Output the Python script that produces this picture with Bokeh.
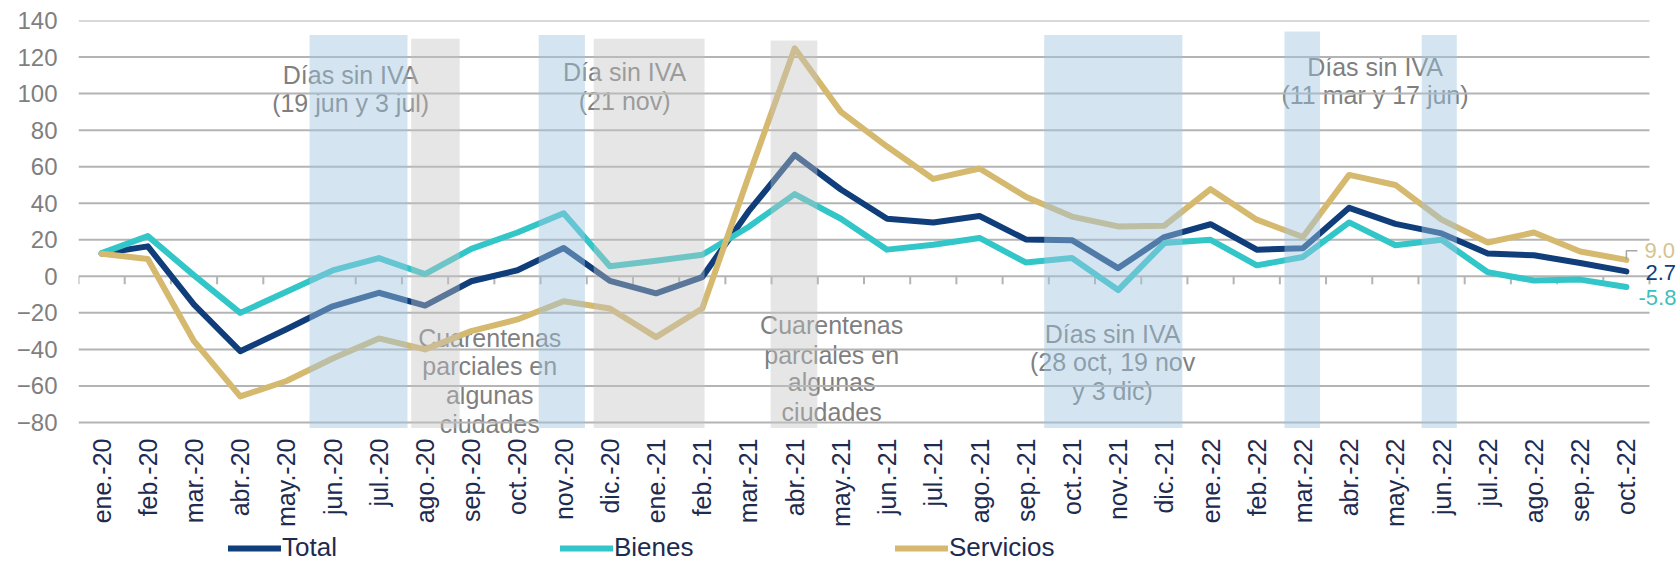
import math
from bokeh.plotting import figure
from bokeh.models import Range1d, FixedTicker, Label, BoxAnnotation, Legend, LegendItem
from bokeh.core.properties import value
from bokeh.embed import file_html
from bokeh.resources import INLINE

# ---------------- data ----------------
months = ["ene.-20", "feb.-20", "mar.-20", "abr.-20", "may.-20", "jun.-20", "jul.-20", "ago.-20",
          "sep.-20", "oct.-20", "nov.-20", "dic.-20", "ene.-21", "feb.-21", "mar.-21", "abr.-21",
          "may.-21", "jun.-21", "jul.-21", "ago.-21", "sep.-21", "oct.-21", "nov.-21", "dic.-21",
          "ene.-22", "feb.-22", "mar.-22", "abr.-22", "may.-22", "jun.-22", "jul.-22", "ago.-22",
          "sep.-22", "oct.-22"]

total = [12.5, 16.4, -15.5, -41.0, -29.0, -16.4, -9.0, -16.0, -2.7, 3.3, 15.5, -2.5, -9.3, -0.4,
         35.5, 66.5, 47.5, 31.5, 29.5, 33.0, 20.2, 19.8, 4.5, 21.5, 28.5, 14.6, 15.3, 37.5, 28.7,
         23.5, 12.5, 11.5, 7.3, 2.7]

bienes = [12.7, 22.0, 0.5, -20.0, -8.5, 3.2, 10.0, 1.2, 15.0, 24.0, 34.5, 5.5, 8.5, 11.8,
          27.0, 45.0, 31.5, 14.6, 17.3, 21.0, 7.6, 10.0, -7.5, 18.2, 20.0, 6.0, 10.6, 29.5, 17.0,
          20.0, 2.2, -2.3, -1.8, -5.8]

servicios = [12.3, 9.5, -35.5, -65.7, -57.3, -45.0, -34.0, -40.0, -30.0, -23.6, -13.6, -17.6,
             -33.3, -17.6, 54.5, 124.8, 90.0, 71.0, 53.3, 59.0, 43.6, 32.7, 27.3, 27.7, 47.7,
             31.0, 21.5, 55.5, 50.0, 31.0, 18.5, 24.0, 13.6, 9.0]

y_ticks = [-80, -60, -40, -20, 0, 20, 40, 60, 80, 100, 120, 140]

# shaded periods (in month-boundary units) : (start, end, top)
blue_bands = [(5.0, 7.12, 132), (9.96, 10.96, 132), (20.9, 23.89, 132), (26.1, 26.87, 134), (29.07, 29.83, 132)]
gray_bands = [(7.2, 8.25, 130), (11.15, 13.55, 130), (14.98, 15.99, 129)]

# annotation texts: (lines, x-center, baselines)
notes = [
    (["Días sin IVA", "(19 jun y 3 jul)"], 5.89, [110.4, 95.1]),
    (["Día sin IVA", "(21 nov)"], 11.82, [111.7, 96.2]),
    (["Días sin IVA", "(11 mar y 17 jun)"], 28.06, [114.4, 99.0]),
    (["Cuarentenas", "parciales en", "algunas", "ciudades"], 8.9, [-33.6, -49.3, -65.2, -80.7]),
    (["Cuarentenas", "parciales en", "algunas", "ciudades"], 16.3, [-26.9, -42.8, -58.1, -74.0]),
    (["Días sin IVA", "(28 oct, 19 nov", "y 3 dic)"], 22.38, [-31.3, -47.0, -62.5]),
]

# ---------------- style / layout ----------------
FONT = "Liberation Sans"
C_TOTAL = "#0f3e7a"
C_BIENES = "#33c6c8"
C_SERV = "#d5b96f"
GRID = "#b4b4b4"
GRAY_TXT = "#7f7f7f"
NAVY_TXT = "#1d2b4f"

W, H = 1679, 563
LEFT, TOP = 78, 20
PLOT_W, PLOT_H = 1571, 402          # pixel size of the -80..140 x 34-month area
Y_MIN, Y_MAX = y_ticks[0], y_ticks[-1]

n = len(months)
xs = [i + 0.5 for i in range(n)]
px_x = PLOT_W / n
px_y = PLOT_H / (Y_MAX - Y_MIN)
x_end = n + (W - LEFT - PLOT_W) / px_x
y_start = Y_MIN - (H - TOP - PLOT_H) / px_y

p = figure(width=W, height=H,
           x_range=Range1d(0, x_end), y_range=Range1d(y_start, Y_MAX),
           output_backend="svg", toolbar_location=None,
           min_border_left=LEFT, min_border_right=0, min_border_top=TOP, min_border_bottom=0)
p.outline_line_color = None
p.background_fill_color = "white"
p.xgrid.visible = False
p.ygrid.visible = False
p.xaxis.visible = False

# y axis
p.yaxis.ticker = FixedTicker(ticks=y_ticks)
p.yaxis.axis_line_color = None
p.yaxis.major_tick_line_color = None
p.yaxis.minor_tick_line_color = None
p.yaxis.major_tick_out = 0
p.yaxis.major_tick_in = 0
p.yaxis.major_label_standoff = 21
p.yaxis.major_label_text_font = FONT
p.yaxis.major_label_text_font_size = "24px"
p.yaxis.major_label_text_color = GRAY_TXT

# annotation texts (under the grid)
for lines, xc, bases in notes:
    for t, b in zip(lines, bases):
        p.add_layout(Label(x=xc, y=b, text=t, text_align="center", text_baseline="alphabetic",
                           text_font=FONT, text_font_size="25px", text_color=GRAY_TXT,
                           level="image"))

# horizontal grid lines over the month span
p.segment(x0=[0] * len(y_ticks), y0=y_ticks, x1=[n] * len(y_ticks), y1=y_ticks,
          line_color=GRID, line_width=2)

# category tick marks on the zero line
bounds = list(range(n + 1))
p.segment(x0=bounds, y0=[0] * len(bounds), x1=bounds, y1=[-8 / px_y] * len(bounds),
          line_color=GRID, line_width=2)

# month labels (rotated, below the plot area)
p.text(x=xs, y=[Y_MIN - 16 / px_y] * n, text=months, angle=math.pi / 2,
       text_align="right", text_baseline="middle", text_font=value(FONT),
       text_font_size=value("25px"), text_color=NAVY_TXT)

# series
r_total = p.line(xs, total, line_color=C_TOTAL, line_width=6, line_join="round", line_cap="round")
r_bienes = p.line(xs, bienes, line_color=C_BIENES, line_width=6, line_join="round", line_cap="round")
r_serv = p.line(xs, servicios, line_color=C_SERV, line_width=6, line_join="round", line_cap="round")

# shaded bands on top
for a, b, top in blue_bands:
    p.add_layout(BoxAnnotation(left=a, right=b, bottom=Y_MIN - 3, top=top, fill_color="#9fc5e0",
                               fill_alpha=0.45, line_color=None))
for a, b, top in gray_bands:
    p.add_layout(BoxAnnotation(left=a, right=b, bottom=Y_MIN - 3, top=top, fill_color="#c4c4c4",
                               fill_alpha=0.42, line_color=None))

# end-of-series labels
p.line([xs[-1], xs[-1], xs[-1] + 0.24], [servicios[-1], servicios[-1] + 5, servicios[-1] + 5],
       line_color="#a6a6a6", line_width=1.5)
p.add_layout(Label(x=n, y=servicios[-1], text=f"{servicios[-1]:.1f}", x_offset=-5, y_offset=9,
                   text_baseline="middle", text_font=FONT, text_font_size="22px", text_color="#d6c38d"))
p.add_layout(Label(x=n, y=total[-1], text=f"{total[-1]:.1f}", x_offset=-4, y_offset=-1.5,
                   text_baseline="middle", text_font=FONT, text_font_size="22px", text_color=C_TOTAL))
p.add_layout(Label(x=n, y=bienes[-1], text=f"{bienes[-1]:.1f}", x_offset=-11, y_offset=-11,
                   text_baseline="middle", text_font=FONT, text_font_size="22px", text_color="#3cbfbf"))

# legend: one entry per series, laid out along the bottom
for label, rend, lx in [("Total", r_total, 150), ("Bienes", r_bienes, 482), ("Servicios", r_serv, 817)]:
    lg = Legend(items=[LegendItem(label=label, renderers=[rend])],
                orientation="horizontal", location=(lx, 0),
                glyph_width=53, glyph_height=24, label_height=24, label_standoff=1,
                padding=0, margin=0, border_line_color=None, background_fill_alpha=0,
                label_text_font=FONT, label_text_font_size="26px", label_text_color=NAVY_TXT)
    p.add_layout(lg)

open("out.html", "w").write(file_html(p, INLINE))
